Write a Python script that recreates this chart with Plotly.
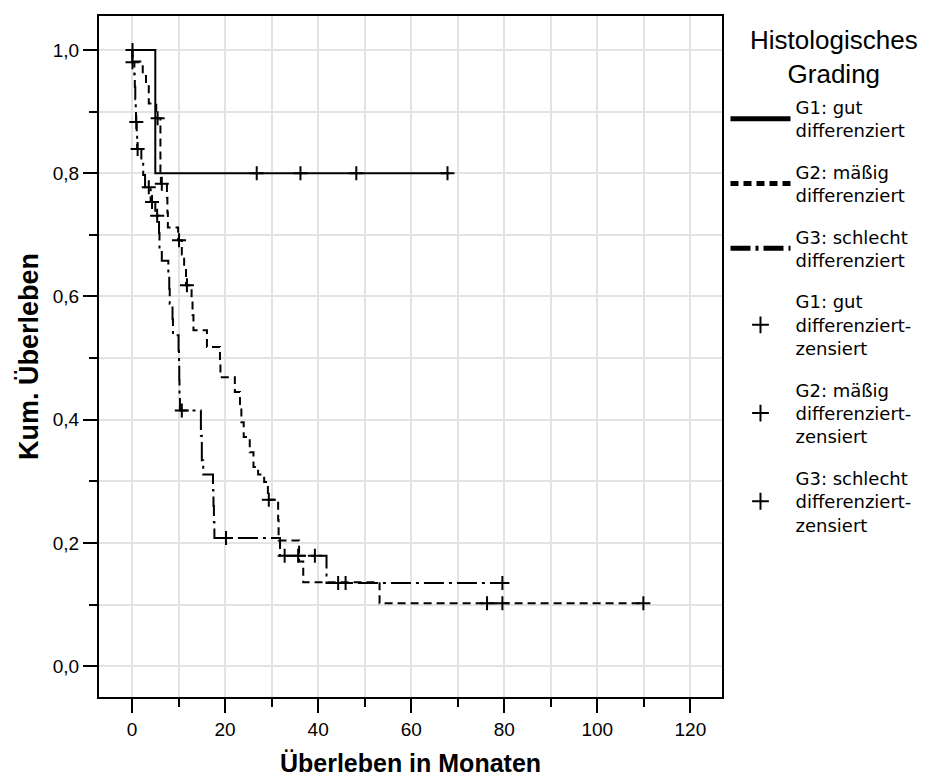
import plotly.graph_objects as go

# Kaplan-Meier step points per grading group: event times (months) and
# cumulative survival right after each event.
g1_times = [5.0]
g1_surv = [0.80]
g1_end = 68.2
g1_cens_t = [0.1, 26.8, 36.2, 48.2, 67.8]
g1_cens_s = [1.0, 0.80, 0.80, 0.80, 0.80]

g2_times = [0.1, 2.3, 3.0, 3.6, 5.2, 6.1, 6.2, 7.5, 7.6, 7.7, 9.9, 10.7, 11.2, 11.6,
            12.8, 13.0, 13.2, 16.1, 18.9, 19.0, 22.1, 23.2, 23.5, 24.0, 25.3, 26.1,
            27.1, 28.4, 29.2, 31.4, 31.5, 35.9, 36.8, 53.2]
g2_surv = [0.981, 0.961, 0.945, 0.913, 0.889, 0.80, 0.783, 0.76, 0.736, 0.712, 0.691,
           0.668, 0.643, 0.618, 0.594, 0.57, 0.545, 0.518, 0.494, 0.469, 0.445, 0.42,
           0.396, 0.372, 0.347, 0.323, 0.311, 0.299, 0.27, 0.237, 0.204, 0.17, 0.136, 0.102]
g2_end = 110.0
g2_cens_t = [5.5, 6.4, 10.1, 11.8, 29.4, 76.3, 79.6, 109.9]
g2_cens_s = [0.889, 0.783, 0.691, 0.618, 0.27, 0.102, 0.102, 0.102]

g3_times = [0.05, 0.5, 0.6, 0.7, 0.8, 0.85, 1.0, 1.1, 2.0, 2.4, 2.8, 4.0, 5.0, 5.8, 5.9,
            6.4, 7.8, 8.0, 8.1, 8.7, 8.8, 10.0, 10.1, 10.15, 10.2, 10.3, 14.8, 15.0,
            15.3, 17.4, 17.5, 17.6, 17.7, 31.8, 41.8]
g3_surv = [0.98, 0.96, 0.94, 0.92, 0.90, 0.883, 0.861, 0.839, 0.818, 0.797, 0.777,
           0.753, 0.731, 0.703, 0.675, 0.658, 0.635, 0.612, 0.588, 0.563, 0.537, 0.512,
           0.488, 0.464, 0.44, 0.415, 0.374, 0.334, 0.311, 0.285, 0.26, 0.234, 0.208,
           0.179, 0.135]
g3_end = 79.6
g3_cens_t = [0.1, 0.92, 1.2, 3.6, 4.3, 5.4, 10.7, 20.2, 32.8, 35.7, 39.3, 44.3, 45.9, 79.6]
g3_cens_s = [0.98, 0.883, 0.839, 0.777, 0.753, 0.731, 0.415, 0.208, 0.179, 0.179,
             0.179, 0.135, 0.135, 0.135]

line_names = ["G1: gut<br>differenziert", "G2: mäßig<br>differenziert",
              "G3: schlecht<br>differenziert"]
cens_names = ["G1: gut<br>differenziert-<br>zensiert",
              "G2: mäßig<br>differenziert-<br>zensiert",
              "G3: schlecht<br>differenziert-<br>zensiert"]
legend_title = "Histologisches<br>Grading"
dashes = ["solid", "8px,5px", "20px,5px,3px,5px"]

FONT = "Liberation Sans, Arial, sans-serif"
LEGEND_FONT = "DejaVu Sans, sans-serif"


def curve(times, surv, end):
    xs = [0.0] + list(times) + [end]
    ys = [1.0] + list(surv) + [surv[-1]]
    return xs, ys


fig = go.Figure()

groups = [
    (g1_times, g1_surv, g1_end),
    (g2_times, g2_surv, g2_end),
    (g3_times, g3_surv, g3_end),
]
for i, (t, s, e) in enumerate(groups):
    xs, ys = curve(t, s, e)
    fig.add_trace(go.Scatter(
        x=xs, y=ys, mode="lines", line_shape="hv",
        line=dict(color="black", width=2, dash=dashes[i]),
        name=line_names[i], legendgroup=f"l{i}", hoverinfo="skip",
    ))

cens = [(g1_cens_t, g1_cens_s), (g2_cens_t, g2_cens_s), (g3_cens_t, g3_cens_s)]
for i, (t, s) in enumerate(cens):
    fig.add_trace(go.Scatter(
        x=t, y=s, mode="markers",
        marker=dict(symbol="cross-thin", size=10, color="black",
                    line=dict(color="black", width=2)),
        name=cens_names[i], legendgroup=f"c{i}", hoverinfo="skip",
    ))

# centred two-line heading above the legend entries
fig.add_annotation(
    text=legend_title, xref="paper", yref="paper", x=1.1795, y=0.99,
    xanchor="center", yanchor="top", align="center", showarrow=False,
    font=dict(size=26, family=FONT),
)

grid = "#e3e3e3"
fig.update_layout(
    width=927, height=784,
    margin=dict(l=99, r=204, t=16, b=87),
    paper_bgcolor="white", plot_bgcolor="white",
    font=dict(family=FONT, color="black", size=19),
    separators=",.",
    showlegend=True,
    legend=dict(
        x=1.004, xanchor="left", y=0.893, yanchor="top",
        font=dict(size=18, family=LEGEND_FONT),
        itemwidth=60, tracegroupgap=15, itemsizing="constant",
        bgcolor="rgba(0,0,0,0)", borderwidth=0,
    ),
    xaxis=dict(
        range=[-7.1, 126.8], tickmode="linear", tick0=0, dtick=20,
        ticks="outside", ticklen=14, tickwidth=2, tickcolor="black",
        showgrid=True, gridcolor=grid, gridwidth=2, zeroline=False,
        showline=True, linecolor="black", linewidth=2, mirror=True,
        tickfont=dict(size=19),
        minor=dict(dtick=10, tick0=0, ticks="outside", ticklen=8, tickwidth=2,
                   tickcolor="black", showgrid=True, gridcolor=grid, gridwidth=2),
        title=dict(text="<b>Überleben in Monaten</b>", font=dict(size=25), standoff=16),
    ),
    yaxis=dict(
        range=[-0.05, 1.055], tickmode="linear", tick0=0, dtick=0.2, tickformat=".1f",
        ticks="outside", ticklen=14, tickwidth=2, tickcolor="black",
        showgrid=True, gridcolor=grid, gridwidth=2, zeroline=False,
        showline=True, linecolor="black", linewidth=2, mirror=True,
        tickfont=dict(size=19),
        minor=dict(dtick=0.1, tick0=0, ticks="outside", ticklen=8, tickwidth=2,
                   tickcolor="black", showgrid=True, gridcolor=grid, gridwidth=2),
        title=dict(text="<b>Kum. Überleben</b>", font=dict(size=27), standoff=6),
    ),
)

fig.write_html("out.html")
